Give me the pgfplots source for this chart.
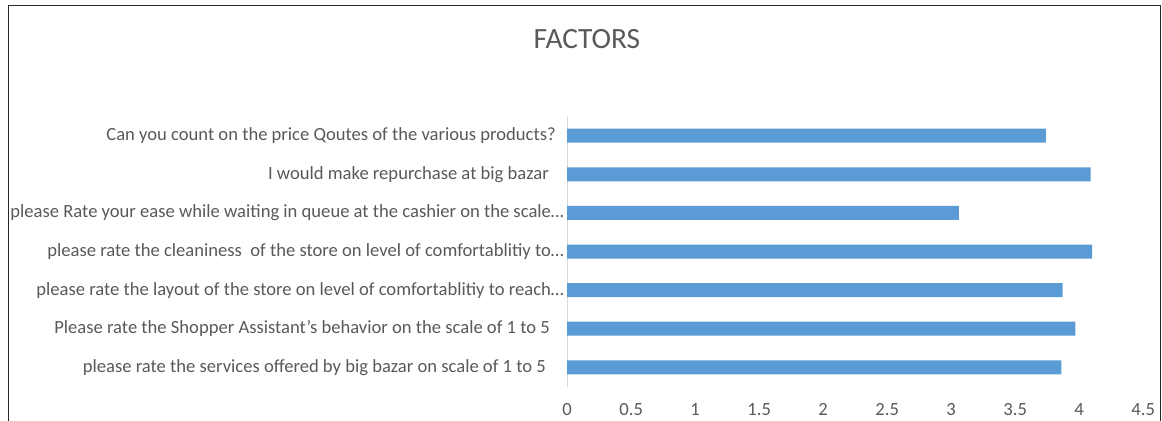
\documentclass[border=0pt]{standalone}
\usepackage{fontspec}
\setmainfont{Carlito}
\usepackage{pgfplots}
\pgfplotsset{compat=1.18}
\definecolor{barblue}{HTML}{5B9BD5}
\definecolor{txtgray}{HTML}{595959}
\definecolor{axgray}{HTML}{D9D9D9}
\definecolor{framegray}{HTML}{262626}

\begin{document}
\begin{tikzpicture}
\path[use as bounding box] (0,0) rectangle (581pt,-210.5pt);
% chart frame (open at the bottom)
\draw[line width=0.8pt, framegray] (4.2pt,-210.5pt) -- (4.2pt,-2.7pt) -- (580.3pt,-2.7pt) -- (580.3pt,-210.5pt);
% title
\node[text=txtgray, font=\fontsize{14.7}{17}\selectfont] at (293.5pt,-19.5pt) {FACTORS};
\begin{axis}[
  at={(283.6pt,-193.3pt)}, anchor=south west,
  scale only axis, width=288pt, height=135.1pt,
  xmin=0, xmax=4.5, ymin=-0.5, ymax=6.5,
  xbar, bar width=7pt,
  axis lines*=left,
  x axis line style={draw=none},
  y axis line style={axgray, line width=0.5pt},
  axis line style={-},
  major tick length=0pt,
  xtick={0,0.5,1,1.5,2,2.5,3,3.5,4,4.5},
  /pgf/number format/assume math mode=true,
  xticklabel style={text=txtgray, font=\fontsize{9.3}{11}\selectfont, yshift=-5pt},
  ytick={0,1,2,3,4,5,6},
  yticklabels={
    {please rate the services offered by big bazar on scale of 1 to 5\kern9pt},
    {Please rate the Shopper Assistant’s behavior on the scale of 1 to 5\kern7pt},
    {please rate the layout of the store on level of comfortablitiy to reach…},
    {please rate the cleaniness\ \ of the store on level of comfortablitiy to…},
    {please Rate your ease while waiting in queue at the cashier on the scale…},
    {I would make repurchase at big bazar\kern7.5pt},
    {Can you count on the price Qoutes of the various products?\kern4pt}
  },
  yticklabel style={text=txtgray, font=\fontsize{9.3}{11}\selectfont, inner xsep=1.5pt},
]
\addplot[fill=barblue, draw=none] coordinates {
  (3.86,0) (3.97,1) (3.87,2) (4.10,3) (3.06,4) (4.09,5) (3.74,6)
};
\end{axis}
\end{tikzpicture}
\end{document}
